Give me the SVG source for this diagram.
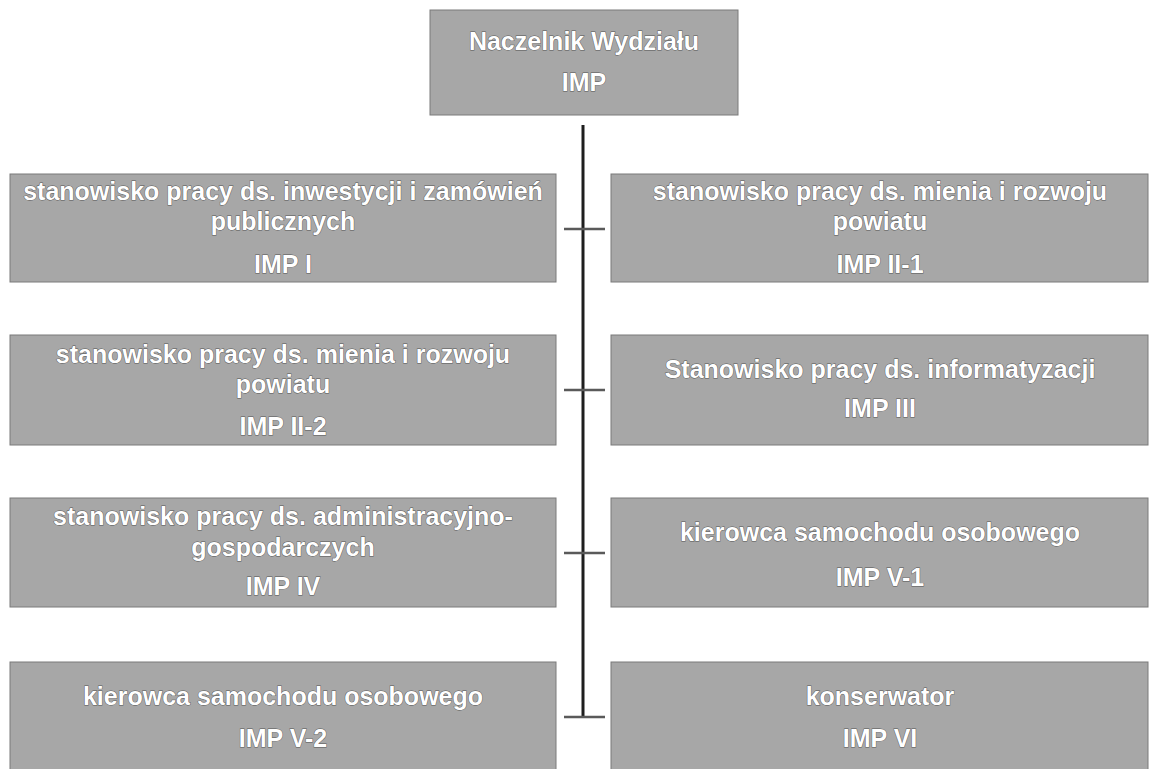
<svg xmlns="http://www.w3.org/2000/svg" width="1150" height="769" viewBox="0 0 1150 769">
<style>
.box{fill:#a7a7a7;stroke:#7a7a7a;stroke-width:1}
.t{font-family:"Liberation Sans",Arial,sans-serif;font-size:25px;font-weight:bold;fill:#ffffff;stroke:#555555;stroke-width:0.9;paint-order:stroke fill;text-anchor:middle}
.vline{stroke:#1e1e1e;stroke-width:3;fill:none}
.tick{stroke:#5a5a5a;stroke-width:2.5;fill:none}
</style>
<rect width="1150" height="769" fill="#ffffff"/>
<g id="connectors">
<line class="vline" x1="583" y1="125" x2="583" y2="718"/>
<line class="tick" x1="564" y1="229" x2="605" y2="229"/>
<line class="tick" x1="564" y1="390" x2="605" y2="390"/>
<line class="tick" x1="564" y1="553" x2="605" y2="553"/>
<line class="tick" x1="564" y1="717" x2="605" y2="717"/>
</g>
<g id="n0">
<rect class="box" x="430" y="10" width="308" height="105"/>
<text class="t" x="584" y="50">Naczelnik Wydziału</text>
<text class="t" x="584" y="91">IMP</text>
</g>
<g id="n1">
<rect class="box" x="10" y="174" width="546" height="108"/>
<text class="t" x="283" y="200">stanowisko pracy ds. inwestycji i zamówień</text>
<text class="t" x="283" y="230">publicznych</text>
<text class="t" x="283" y="273">IMP I</text>
</g>
<g id="n2">
<rect class="box" x="611" y="174" width="537" height="108"/>
<text class="t" x="880" y="200">stanowisko pracy ds. mienia i rozwoju</text>
<text class="t" x="880" y="230">powiatu</text>
<text class="t" x="880" y="273">IMP II-1</text>
</g>
<g id="n3">
<rect class="box" x="10" y="335" width="546" height="110"/>
<text class="t" x="283" y="363">stanowisko pracy ds. mienia i rozwoju</text>
<text class="t" x="283" y="393">powiatu</text>
<text class="t" x="283" y="435">IMP II-2</text>
</g>
<g id="n4">
<rect class="box" x="611" y="335" width="537" height="110"/>
<text class="t" x="880" y="378">Stanowisko pracy ds. informatyzacji</text>
<text class="t" x="880" y="417">IMP III</text>
</g>
<g id="n5">
<rect class="box" x="10" y="498" width="546" height="109"/>
<text class="t" x="283" y="525">stanowisko pracy ds. administracyjno-</text>
<text class="t" x="283" y="556">gospodarczych</text>
<text class="t" x="283" y="595">IMP IV</text>
</g>
<g id="n6">
<rect class="box" x="611" y="498" width="537" height="109"/>
<text class="t" x="880" y="541">kierowca samochodu osobowego</text>
<text class="t" x="880" y="586">IMP V-1</text>
</g>
<g id="n7">
<rect class="box" x="10" y="662" width="546" height="108"/>
<text class="t" x="283" y="705">kierowca samochodu osobowego</text>
<text class="t" x="283" y="747">IMP V-2</text>
</g>
<g id="n8">
<rect class="box" x="611" y="662" width="537" height="108"/>
<text class="t" x="880" y="705">konserwator</text>
<text class="t" x="880" y="747">IMP VI</text>
</g>
</svg>
